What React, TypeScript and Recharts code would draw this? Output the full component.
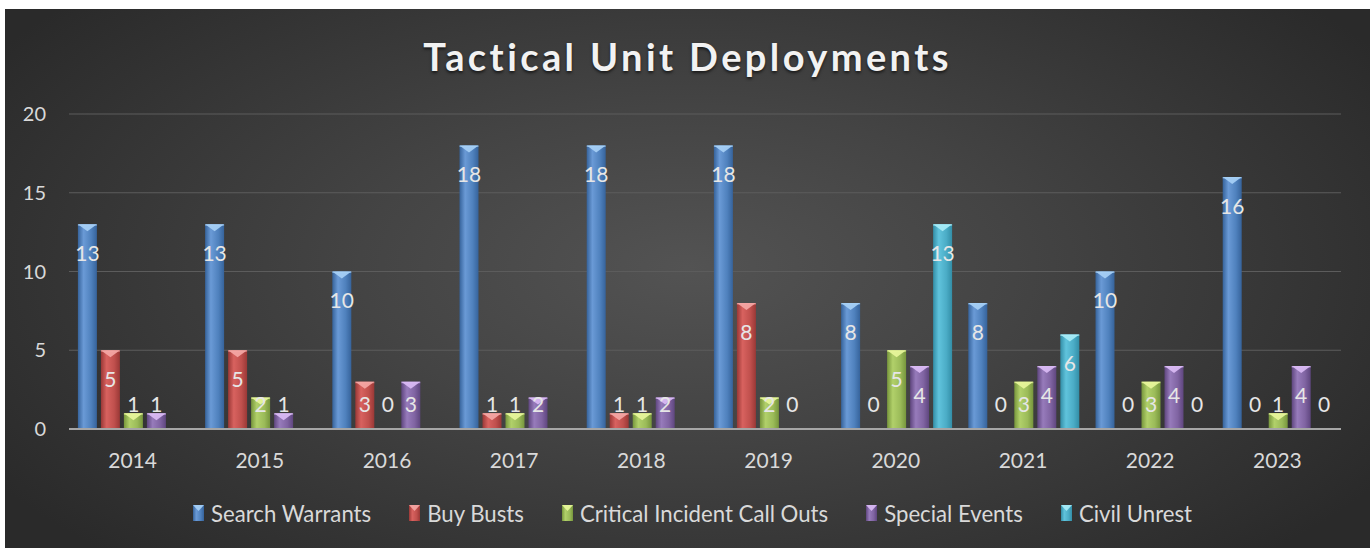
import { BarChart, Bar, XAxis, YAxis, CartesianGrid, Legend, LabelList } from 'recharts';

const years = ['2014', '2015', '2016', '2017', '2018', '2019', '2020', '2021', '2022', '2023'];
const searchWarrants = [13, 13, 10, 18, 18, 18, 8, 8, 10, 16];
const buyBusts = [5, 5, 3, 1, 1, 8, 0, 0, 0, 0];
const criticalIncidents = [1, 2, 0, 1, 1, 2, 5, 3, 3, 1];
const specialEvents = [1, 1, 3, 2, 2, 0, 4, 4, 4, 4];
const civilUnrest = [null, null, null, null, null, null, 13, 6, 0, 0];
const yTicks = [0, 5, 10, 15, 20];

const series = [
  { key: 'sw', name: 'Search Warrants', values: searchWarrants, dark: '#36639b', mid: '#4f81bd', light: '#6a9ad6', tip: '#a9d2f7' },
  { key: 'bb', name: 'Buy Busts', values: buyBusts, dark: '#9a3836', mid: '#c0504d', light: '#d8625f', tip: '#f5a9a6' },
  { key: 'ci', name: 'Critical Incident Call Outs', values: criticalIncidents, dark: '#77963c', mid: '#9bbb59', light: '#b1d06a', tip: '#e9f79c' },
  { key: 'se', name: 'Special Events', values: specialEvents, dark: '#5f467f', mid: '#8064a2', light: '#977bbb', tip: '#dcbcf6' },
  { key: 'cu', name: 'Civil Unrest', values: civilUnrest, dark: '#338ea7', mid: '#4bacc6', light: '#60c3dc', tip: '#aaedf8' },
];

const data = years.map((year, i) => {
  const row: Record<string, string | number | null> = { year };
  series.forEach((s) => { row[s.key] = s.values[i]; });
  return row;
});

const FONT = 'Lato, "Open Sans", sans-serif';
const TEXT = '#d9d9d9';

function BevelBar(props: any) {
  const { x, y, width, height, sKey, tip } = props;
  if (!height || height <= 0) return null;
  const t = Math.min(7, height);
  return (
    <g>
      <rect x={x} y={y} width={width} height={height} fill={`url(#grad-${sKey})`} />
      <polygon points={`${x},${y} ${x + width},${y} ${x + width / 2},${y + t}`} fill={tip} opacity={0.9} />
      <rect x={x} y={y} width={width} height={1.5} fill={tip} opacity={0.6} />
    </g>
  );
}

function ValueLabel(props: any) {
  const { x, y, width, height, value } = props;
  if (value === null || value === undefined) return null;
  const base = y + height;
  const cy = Math.min(y + 28, base - 26);
  return (
    <text x={x + width / 2} y={cy} textAnchor="middle" dominantBaseline="central" fill="#e6e6e6" fontSize={21} fontFamily={FONT}>
      {value}
    </text>
  );
}

function LegendContent() {
  return (
    <div style={{ height: 30, display: 'flex', justifyContent: 'center', alignItems: 'center', paddingLeft: 10, fontFamily: FONT, fontSize: 22.2, color: TEXT }}>
      {series.map((s, i) => (
        <div key={s.key} style={{ display: 'flex', alignItems: 'center', marginRight: i === series.length - 1 ? 0 : 38 }}>
          <svg width={11} height={16} style={{ marginRight: 7 }}>
            <rect x={0} y={0} width={11} height={16} fill={`url(#grad-${s.key})`} />
            <polygon points="0,0 11,0 5.5,6" fill={s.tip} opacity={0.9} />
          </svg>
          <span>{s.name}</span>
        </div>
      ))}
    </div>
  );
}

export default function App() {
  return (
    <div
      style={{
        position: 'absolute',
        left: 5,
        top: 9,
        width: 1365,
        height: 539,
        background: 'radial-gradient(ellipse 60% 75% at 50% 48%, #535353 0%, #444444 40%, #2a2a2a 100%)',
        overflow: 'hidden',
      }}
    >
      <div
        style={{
          position: 'absolute',
          top: 24,
          left: 0,
          width: 1365,
          textAlign: 'center',
          fontFamily: FONT,
          fontWeight: 700,
          fontSize: 38,
          letterSpacing: 3.4,
          color: '#f2f2f2',
          textShadow: '0 2px 3px rgba(0,0,0,0.6)',
        }}
      >
        Tactical Unit Deployments
      </div>
      <BarChart
        width={1365}
        height={539}
        data={data}
        margin={{ top: 105, right: 29, left: 14, bottom: 20 }}
        barCategoryGap="7%"
        barGap={4}
      >
        <defs>
          {series.map((s) => (
            <linearGradient key={s.key} id={`grad-${s.key}`} x1="0" y1="0" x2="1" y2="0">
              <stop offset="0%" stopColor={s.dark} />
              <stop offset="30%" stopColor={s.light} />
              <stop offset="70%" stopColor={s.mid} />
              <stop offset="100%" stopColor={s.dark} />
            </linearGradient>
          ))}
        </defs>
        <CartesianGrid vertical={false} stroke="#5c5c5c" strokeWidth={1} />
        <XAxis
          dataKey="year"
          height={69}
          axisLine={{ stroke: '#a6a6a6', strokeWidth: 2 }}
          tickLine={false}
          tickSize={0}
          tickMargin={24}
          tick={{ fill: TEXT, fontSize: 21, fontFamily: FONT }}
        />
        <YAxis
          width={50}
          domain={[0, 20]}
          ticks={yTicks}
          axisLine={false}
          tickLine={false}
          tickSize={0}
          tickMargin={23}
          tick={{ fill: TEXT, fontSize: 20, fontFamily: FONT }}
        />
        <Legend verticalAlign="bottom" height={30} wrapperStyle={{ left: 0, width: 1365 }} content={<LegendContent />} />
        {series.map((s) => (
          <Bar
            key={s.key}
            dataKey={s.key}
            name={s.name}
            fill={s.mid}
            isAnimationActive={false}
            shape={(p: any) => <BevelBar {...p} sKey={s.key} tip={s.tip} />}
          >
            <LabelList dataKey={s.key} content={<ValueLabel />} />
          </Bar>
        ))}
      </BarChart>
    </div>
  );
}
